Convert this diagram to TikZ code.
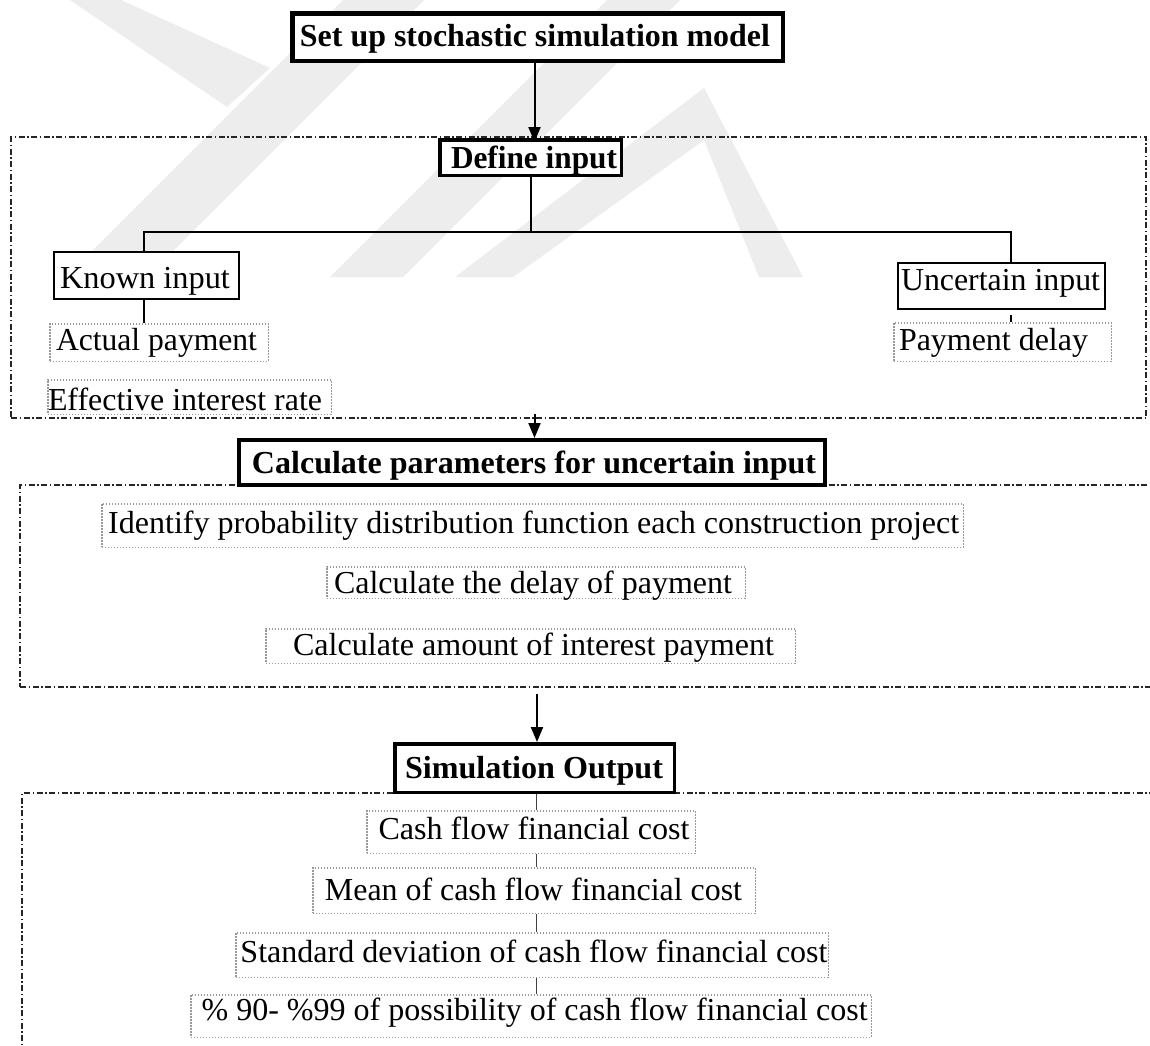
\documentclass[tikz,border=0pt]{standalone}
\usepackage{fontspec}
\setmainfont{Liberation Serif}
\usepackage{graphicx}
\usetikzlibrary{arrows.meta,calc}
\newcommand{\tw}[2]{\resizebox{#1pt}{\height}{#2}}
\begin{document}
\begin{tikzpicture}[x=1pt,y=-1pt,
  solidbox/.style={draw=black, fill=white, inner sep=0pt},
  dotbox/.style={draw=black!40, fill=white, line width=1.5pt, dash pattern=on 1.5pt off 1.5pt, inner sep=0pt},
  region/.style={draw=black!85, line width=1.3pt, dash pattern=on 6pt off 2.5pt on 1.5pt off 2.5pt, inner sep=0pt},
  txt/.style={anchor=base, inner sep=0pt, font=\fontsize{32}{38}\selectfont},
  btxt/.style={anchor=base, inner sep=0pt, font=\fontsize{32}{38}\selectfont\bfseries},
  arr/.style={line width=2pt, -{Triangle[length=15pt,width=12pt]}},
  tree/.style={line width=2pt},
  thinline/.style={line width=1pt, black!75},
  wm/.style={fill=black!7, draw=none}]
\useasboundingbox (0,0) rectangle (1150,1045);
\clip (0,0) rectangle (1150,1045);
\fill[white] (0,0) rectangle (1150,1045);
% watermark
\fill[wm] (70,0) -- (121,0) -- (270,68) -- (227,107) -- cycle;
\fill[wm] (66,277) -- (147,277) -- (424,0) -- (343,0) -- cycle;
\fill[wm] (330,277) -- (403,277) -- (680,0) -- (607,0) -- cycle;
\fill[wm] (455,277) -- (704,88) -- (803,277) -- (759,277) -- (704,140) -- (513,277) -- cycle;
% regions
\node[region, minimum width=1135pt, minimum height=281pt] (r1) at (578.5,277.5) {};
\node[region, minimum width=1150pt, minimum height=202pt] (r2) at (595,586) {};
\node[region, minimum width=1148pt, minimum height=287pt] (r3) at (596,936.5) {};
% solid boxes
\node[solidbox, line width=4.5pt, minimum width=490.5pt, minimum height=47.5pt] (top) at (537.5,37) {};
\node[solidbox, line width=3.5pt, minimum width=181.5pt, minimum height=35.5pt] (def) at (530.5,157.5) {};
\node[solidbox, line width=2.2pt, minimum width=184.8pt, minimum height=46.8pt] (known) at (146.5,275.5) {};
\node[solidbox, line width=2.2pt, minimum width=206.8pt, minimum height=45.8pt] (unc) at (1001.5,286) {};
\node[solidbox, line width=4pt, minimum width=586pt, minimum height=45pt] (calc) at (532,462.5) {};
\node[solidbox, line width=3.5pt, minimum width=279.5pt, minimum height=48.5pt] (simout) at (534.5,768) {};
% dotted boxes
\node[dotbox, minimum width=218.5pt, minimum height=37.5pt] (actual) at (159,342.5) {};
\node[dotbox, minimum width=283.5pt, minimum height=34.5pt] (eff) at (189.5,397) {};
\node[dotbox, minimum width=217.5pt, minimum height=38.5pt] (pay) at (1002.5,342) {};
\node[dotbox, minimum width=861.5pt, minimum height=43.5pt] (ident) at (532.5,525.5) {};
\node[dotbox, minimum width=418.5pt, minimum height=31.5pt] (delay) at (536,582.5) {};
\node[dotbox, minimum width=529.5pt, minimum height=34.5pt] (amount) at (530.5,646) {};
\node[dotbox, minimum width=328.5pt, minimum height=42.5pt] (cash) at (531,832) {};
\node[dotbox, minimum width=442.5pt, minimum height=45.5pt] (mean) at (534,890.5) {};
\node[dotbox, minimum width=592.5pt, minimum height=44.5pt] (std) at (532,955) {};
\node[dotbox, minimum width=680.5pt, minimum height=42.5pt] (pct) at (531,1016) {};
% texts
\node[btxt] (top-t) at (535,46.7) {\tw{470}{Set up stochastic simulation model}};
\node[btxt] (def-t) at (534,168.3) {\tw{166}{Define input}};
\node[txt] (known-t) at (145,288.3) {\tw{170}{Known input}};
\node[txt] (unc-t) at (1000.5,290) {\tw{199}{Uncertain input}};
\node[txt] (actual-t) at (156.5,350) {\tw{201}{Actual payment}};
\node[txt] (eff-t) at (185,410) {\tw{274}{Effective interest rate}};
\node[txt] (pay-t) at (993.5,350) {\tw{189}{Payment delay}};
\node[btxt] (calc-t) at (534,473.7) {\tw{564}{Calculate parameters for uncertain input}};
\node[txt] (ident-t) at (533.7,533.3) {\tw{851}{Identify probability distribution function each construction project}};
\node[txt] (delay-t) at (533,593) {\tw{398}{Calculate the delay of payment}};
\node[txt] (amount-t) at (533.5,655) {\tw{481}{Calculate amount of interest payment}};
\node[btxt] (simout-t) at (534,778) {\tw{258}{Simulation Output}};
\node[txt] (cash-t) at (534,839) {\tw{311}{Cash flow financial cost}};
\node[txt] (mean-t) at (533.5,900) {\tw{417}{Mean of cash flow financial cost}};
\node[txt] (std-t) at (534,962) {\tw{587}{Standard deviation of cash flow financial cost}};
\node[txt] (pct-t) at (534.6,1020) {\tw{666}{\% 90- \%99 of possibility of cash flow financial cost}};
% connectors
\coordinate (ax) at (534.5,0);
\coordinate (bx) at (537,0);
\coordinate (ox) at (536,0);
\coordinate (jl) at (144,232);
\coordinate (jr) at (1011,232);
\draw[arr] (ax |- top.south) -- ([yshift=-4pt]ax |- def.north);
\draw[tree] (def.south) -- (def.south |- jl);
\draw[tree] (jl |- known.north) -- (jl) -- (jr) -- (jr |- unc.north);
\draw[tree] (jl |- known.south) -- (jl |- actual.north);
\draw[tree] ($(jr |- unc.south)+(0,5)$) -- (jr |- pay.north);
\draw[arr] ($(ax |- r1.south)+(0,-5)$) -- (ax |- calc.north);
\draw[arr] ($(bx |- r2.south)+(0,6)$) -- (bx |- simout.north);
\draw[thinline] (ox |- simout.south) -- (ox |- cash.north);
\draw[thinline] (ox |- cash.south) -- (ox |- mean.north);
\draw[thinline] (ox |- mean.south) -- (ox |- std.north);
\draw[thinline] (ox |- std.south) -- (ox |- pct.north);
\end{tikzpicture}
\end{document}
